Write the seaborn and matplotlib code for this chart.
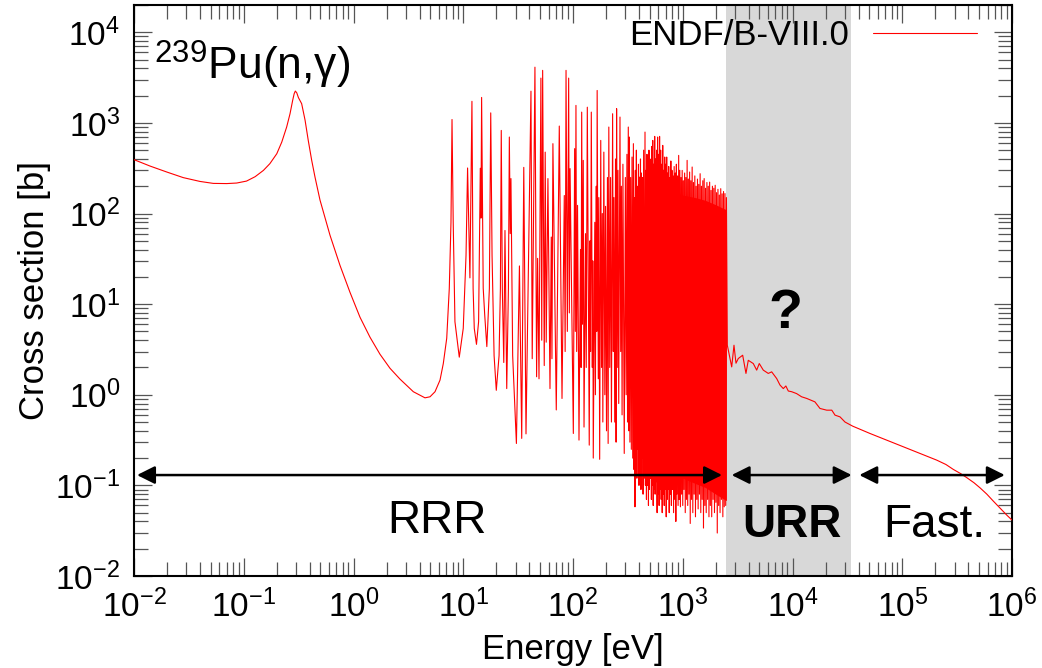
import numpy as np
import pandas as pd
import seaborn as sns
import matplotlib
matplotlib.use("Agg")
import matplotlib.pyplot as plt
from matplotlib.ticker import LogLocator

# thermal region, smooth part below the first resolved resonance (eV, barn)
thermal_e = [0.01, 0.0140, 0.0199, 0.0281, 0.0399, 0.0528, 0.070, 0.0863, 0.106, 0.127,
             0.151, 0.173, 0.20, 0.222, 0.246, 0.264, 0.279, 0.288, 0.295, 0.304,
             0.315, 0.337, 0.362, 0.387, 0.416, 0.446, 0.495, 0.611, 0.753, 0.929,
             1.146, 1.413, 1.743, 2.15, 2.65, 3.51, 4.48, 4.98, 5.53,
             6.14, 6.58, 7.07, 7.46, 7.73]
thermal_xs = [393, 334, 287, 249, 226, 215, 214, 217, 228, 255,
              299, 355, 457, 614, 900, 1262, 1770, 2100, 2245, 2150,
              1900, 1630, 1072, 641, 386, 252, 141, 57.5, 26.8, 13.5,
              7.17, 4.32, 2.80, 1.96, 1.49, 1.08, 0.925, 0.95, 1.08,
              1.45, 2.21, 4.2, 14.9, 80]

# isolated resonances, 7.8 - 100 eV
low_e = [7.9, 8.1, 8.4, 9.2, 10.0, 10.6, 10.95, 11.5, 12.0, 12.3, 12.6, 13.2, 13.8,
         14.3, 14.5, 14.7, 15.2, 15.7, 16.4, 17.3, 17.8, 18.3, 19.1, 20.0, 21.2,
         21.8, 22.2, 22.7, 23.4, 24.0, 24.9, 25.8, 26.3, 26.8, 27.2, 28.2, 30.5,
         32.5, 34.1, 35.6, 37.3, 41.4, 42.5, 45.0, 46.6, 47.6, 49.0, 51.0, 51.9,
         52.9, 54.7, 55.8, 57.0, 59.1, 61.7, 63.4, 64.3, 65.6, 70.4, 75.0, 79.4,
         83.3, 84.8, 86.4, 88.8, 91.3, 92.6, 94.0]
low_xs = [1090, 80, 6.4, 2.6, 5.4, 34.6, 318, 19.5, 1730, 14.9, 5.4, 3.6, 6.4,
          316, 89, 1910, 15, 7.5, 3.4, 14.9, 1290, 34.6, 2.7, 1.12, 2.7,
          14.9, 826, 14.9, 2.27, 65, 1.17, 14.9, 698, 60, 243, 2.7, 0.29,
          26.4, 0.33, 323, 0.37, 2240, 2.5, 4120, 1.58, 32, 1.5, 3120, 4,
          3800, 2.1, 476, 3.8, 243, 1.17, 55, 2.5, 590, 0.68, 923, 0.91,
          158, 3, 3800, 5, 3120, 8, 313]

# crowded resonances, 100 - 320 eV
mid_e = [100.7, 103.5, 105, 106.4, 108, 110, 113.4, 117, 118.5, 120, 122, 124, 126,
         130, 132, 135, 140.6, 143, 144.5, 146.8, 150, 151.5, 153, 158, 160, 163,
         164.5, 166, 170, 172, 175, 179, 182, 185, 187, 191, 195, 198, 202, 206,
         209, 212, 216, 220, 224, 229.6, 233, 236, 240, 244, 247, 249.6, 253, 257,
         261, 268, 272, 276, 280, 285, 293, 300, 305, 310, 314, 319]
mid_xs = [0.374, 520, 5, 1560, 3, 123, 0.316, 40, 2, 1315, 6, 386, 0.44,
          60, 2, 1490, 0.278, 50, 3, 1315, 2, 30, 0.2, 80, 1, 200,
          5, 2280, 1.5, 150, 0.194, 641, 2, 100, 0.5, 476, 1, 120, 0.4, 250,
          0.29, 900, 2, 250, 0.5, 1262, 3, 150, 0.5, 400, 0.30, 1435, 2, 300,
          0.8, 1160, 3, 200, 0.6, 350, 0.225, 250, 1, 450, 0.5, 900]

# spike tips on the edges of the dense block, 320 - 2500 eV
dense_e = [323, 326, 330, 335, 340, 345, 350, 355, 359, 363, 367, 370, 373, 378,
           382, 385, 390, 395, 399, 403, 407, 412, 416, 420, 425, 430, 435, 440,
           446, 453, 457, 462, 467, 472, 477, 482, 487, 492, 497, 503, 508, 513,
           518, 523, 528, 533, 538, 544, 550, 555, 560, 566, 572, 578, 584, 590,
           596, 602, 609, 615, 622, 629, 636, 643, 650, 657, 664, 671, 678, 685,
           692, 699, 707, 714, 721, 729, 737, 745, 753, 761, 770, 779, 788, 797,
           806, 815, 825, 835, 845, 855, 865, 875, 885, 896, 907, 918, 929, 940,
           952, 964, 976, 988, 1000, 1013, 1026, 1040, 1054, 1068, 1082, 1096,
           1110, 1125, 1140, 1155, 1170, 1186, 1202, 1218, 1235, 1252, 1270, 1288,
           1306, 1324, 1343, 1362, 1381, 1400, 1420, 1440, 1460, 1481, 1502, 1523,
           1545, 1567, 1590, 1613, 1636, 1660, 1684, 1708, 1733, 1758, 1784, 1810,
           1836, 1863, 1890, 1918, 1946, 1975, 2004, 2033, 2063, 2093, 2124, 2155,
           2187, 2219, 2252, 2285, 2319, 2353, 2388, 2425, 2462, 2500]
dense_xs = [0.4, 698, 0.3, 250, 0.25, 420, 0.2, 590, 0.15, 150, 0.058, 300, 0.2, 500,
            0.12, 200, 0.25, 350, 0.1, 252, 0.15, 400, 0.09, 280, 0.2, 250, 0.08, 500,
            0.12, 792, 0.1, 300, 0.07, 450, 0.1, 350, 0.06, 500, 0.09, 400, 0.12, 300,
            0.07, 550, 0.1, 641, 0.06, 350, 0.09, 710, 0.08, 400, 0.11, 500, 0.05, 698,
            0.08, 450, 0.06, 710, 0.09, 500, 0.07, 350, 0.05, 565, 0.08, 300, 0.06, 420,
            0.09, 350, 0.045, 420, 0.07, 280, 0.09, 330, 0.05, 250, 0.08, 380, 0.06, 300,
            0.09, 260, 0.05, 330, 0.07, 280, 0.04, 350, 0.08, 260, 0.06, 438, 0.07, 300,
            0.058, 250, 0.08, 299, 0.06, 230, 0.09, 280, 0.05, 250, 0.07, 386,
            0.06, 240, 0.08, 287, 0.038, 230, 0.07, 326, 0.05, 220, 0.08, 260,
            0.045, 200, 0.07, 240, 0.055, 210, 0.08, 275, 0.05, 200, 0.07, 230,
            0.0338, 243, 0.06, 190, 0.05, 220, 0.07, 200, 0.045, 222, 0.06, 180,
            0.045, 200, 0.07, 190, 0.05, 205, 0.065, 170, 0.0298, 185, 0.06, 160,
            0.05, 188, 0.07, 165, 0.045, 175, 0.058, 166, 0.06, 150]

# solid envelope of the unresolvable dense part
block_e = [430, 480, 550, 650, 800, 1000, 1300, 1600, 2000, 2300, 2500]
block_top = [20, 120, 200, 200, 180, 160, 150, 140, 125, 115, 110]
block_bot = [2, 0.4, 0.22, 0.16, 0.13, 0.12, 0.105, 0.095, 0.08, 0.072, 0.068]

# unresolved resonance region
urr_e = [2547, 2793, 2930, 3055, 3206, 3516, 3767, 3954, 4393, 4717, 4980, 5417, 6015,
         6460, 7175, 7690, 8245, 8700, 9155, 9835, 10900, 12100, 13500, 16000, 17800,
         20500, 22800, 24400, 27100, 30100]
urr_xs = [3.52, 2.03, 3.52, 2.23, 2.51, 2.73, 1.72, 2.40, 2.21, 1.87, 2.21, 1.87, 1.72,
          1.79, 1.51, 1.28, 1.17, 1.25, 1.10, 1.08, 1.03, 0.95, 0.91, 0.835, 0.706,
          0.676, 0.676, 0.596, 0.57, 0.50]

# fast region
fast_e = [35400, 50800, 72100, 102000, 145000, 206000, 250000, 292000, 340000, 386000,
          450000, 511000, 590000, 676000, 780000, 896000, 1000000]
fast_xs = [0.45, 0.374, 0.316, 0.267, 0.225, 0.19, 0.17, 0.15, 0.135, 0.122,
           0.107, 0.094, 0.08, 0.067, 0.056, 0.047, 0.0414]

# region boundaries (eV) and arrow level (barn)
rrr_end = 2500
urr_end = 3.4e4
arrow_y = 0.13

df = pd.DataFrame({
    "Energy": thermal_e + low_e + mid_e + dense_e + urr_e + fast_e,
    "XS": thermal_xs + low_xs + mid_xs + dense_xs + urr_xs + fast_xs,
})

sns.set_style("ticks")
plt.rcParams["font.family"] = ["Liberation Sans", "DejaVu Sans"]
plt.rcParams["mathtext.fontset"] = "custom"
plt.rcParams["mathtext.rm"] = "Liberation Sans"
plt.rcParams["mathtext.it"] = "Liberation Sans:italic"
plt.rcParams["mathtext.bf"] = "Liberation Sans:bold"
plt.rcParams["axes.unicode_minus"] = False
plt.rcParams["text.color"] = "black"
plt.rcParams["axes.labelcolor"] = "black"

fig = plt.figure(figsize=(10.42, 6.68), dpi=100)
ax = fig.add_axes([134 / 1042, 92 / 668, 878 / 1042, 571 / 668])
ax.set_xscale("log")
ax.set_yscale("log")

ax.axvspan(rrr_end, urr_end, color="#d8d8d8", lw=0, zorder=0)
ax.fill_between(block_e, block_bot, block_top, color="red", lw=0, zorder=2)
sns.lineplot(data=df, x="Energy", y="XS", color="red", lw=0.8, estimator=None,
             label="ENDF/B-VIII.0", ax=ax, zorder=3)

ax.set_xlim(1e-2, 1e6)
ax.set_ylim(1e-2, 2e4)

ax.xaxis.set_major_locator(LogLocator(base=10, numticks=20))
ax.yaxis.set_major_locator(LogLocator(base=10, numticks=20))
ax.xaxis.set_minor_locator(LogLocator(base=10, subs=np.arange(2, 10), numticks=100))
ax.yaxis.set_minor_locator(LogLocator(base=10, subs=np.arange(2, 10), numticks=100))
ax.tick_params(which="both", direction="in", top=True, right=True,
               color="#555555", width=0.9, labelsize=24, labelcolor="black")
ax.tick_params(which="major", length=13, pad=10)
ax.tick_params(which="minor", length=10)
for s in ax.spines.values():
    s.set_linewidth(1.5)
    s.set_color("black")

ax.set_xlabel("Energy [eV]", fontsize=25)
ax.set_ylabel("Cross section [b]", fontsize=25)
ax.xaxis.set_label_coords(0.5, -0.099)
ax.yaxis.set_label_coords(-0.094, 0.5)

arrow = dict(arrowstyle="<|-|>", color="black", lw=1.8, mutation_scale=27,
             shrinkA=0, shrinkB=0)
for a, b in [(1.065e-2, 2280), (2790, 34600), (40600, 8.6e5)]:
    ax.annotate("", xy=(b, arrow_y), xytext=(a, arrow_y), arrowprops=arrow, zorder=5)

ax.text(5.8, 0.0296, "RRR", fontsize=33, ha="center", va="baseline")
ax.text(9.9e3, 0.027, "URR", fontsize=33, fontweight="bold", ha="center", va="baseline")
ax.text(1.95e5, 0.027, "Fast.", fontsize=33, ha="center", va="baseline")
ax.text(8.7e3, 5.5, "?", fontsize=40, fontweight="bold", ha="center", va="baseline")
ax.text(0.0152, 3020, "$^{239}$Pu(n,γ)", fontsize=32, ha="left", va="baseline")

ax.legend(loc="upper right", bbox_to_anchor=(0.976, 1.0), borderaxespad=0,
          frameon=False, markerfirst=False, fontsize=25, handlelength=3.0,
          handletextpad=0.7)

fig.savefig("out.png", dpi=100)
